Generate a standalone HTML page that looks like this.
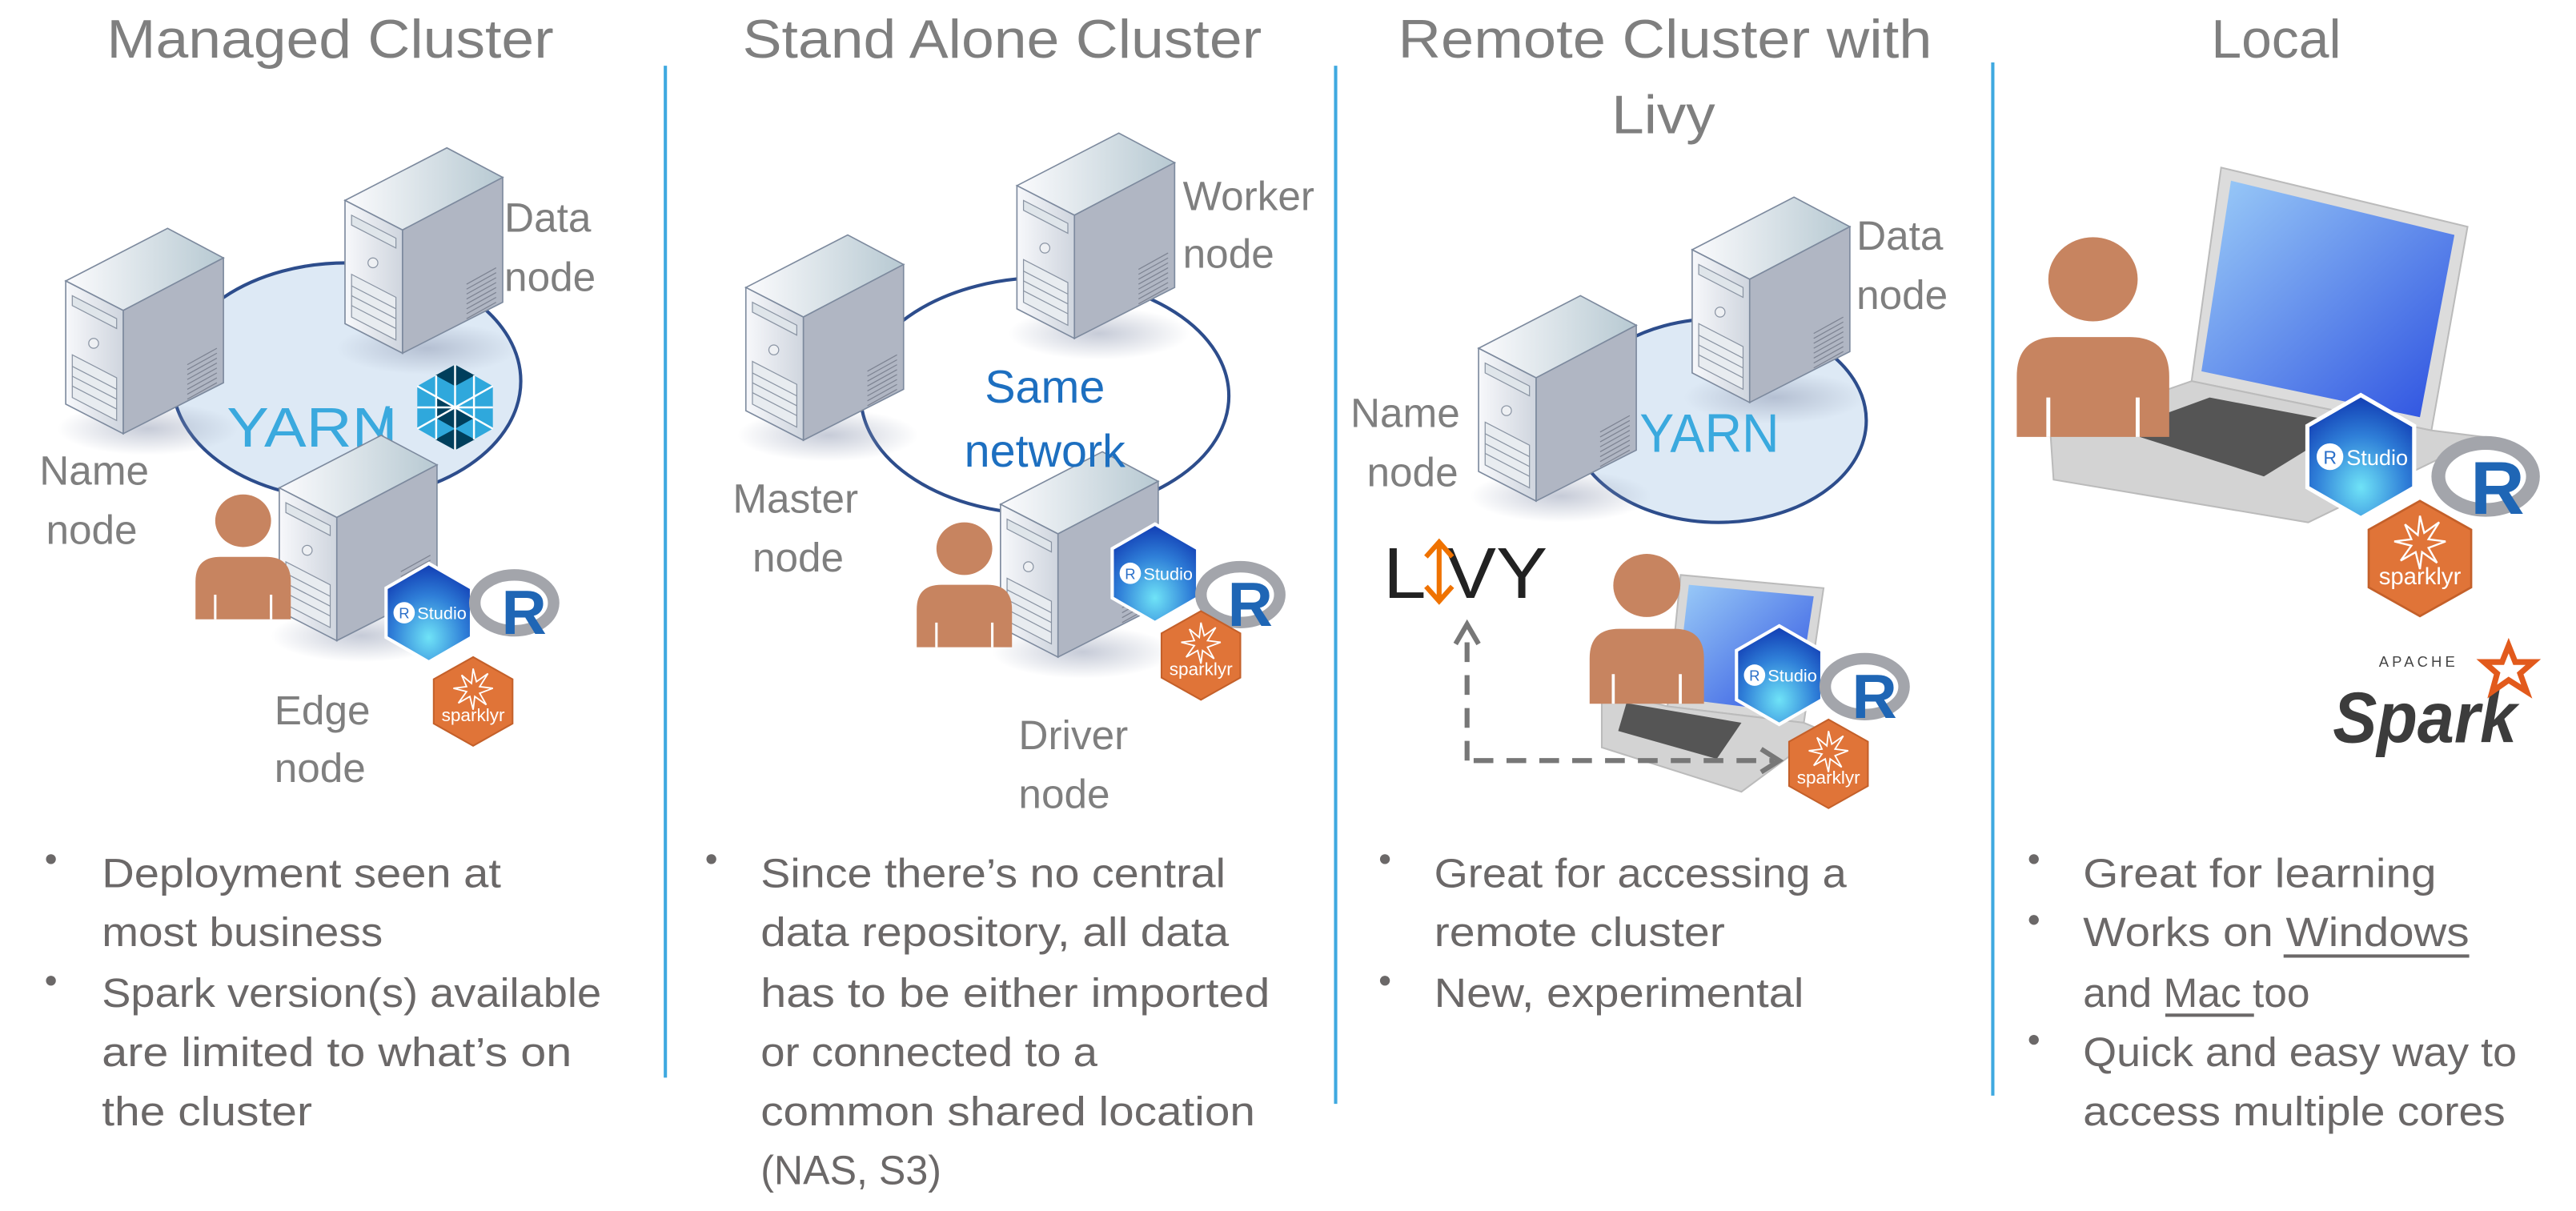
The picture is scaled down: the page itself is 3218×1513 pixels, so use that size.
<!DOCTYPE html>
<html><head><meta charset="utf-8"><style>
html,body{margin:0;padding:0;background:#fff;}
svg{display:block;}
text{font-family:"Liberation Sans",sans-serif;}
</style></head><body>
<svg width="3218" height="1513" viewBox="0 0 1568 737.2" xmlns="http://www.w3.org/2000/svg">
<defs>
<linearGradient id="top" x1="0" y1="0" x2="1" y2="0"><stop offset="0" stop-color="#fbfbfd"/><stop offset="1" stop-color="#b7c9d2"/></linearGradient>
<linearGradient id="front" x1="0" y1="0" x2="1" y2="0"><stop offset="0" stop-color="#f7f8fb"/><stop offset="1" stop-color="#cfd5de"/></linearGradient>
<radialGradient id="rs" cx="0.5" cy="0.75" r="0.7"><stop offset="0" stop-color="#6fe3f7"/><stop offset="0.6" stop-color="#2f7fd8"/><stop offset="1" stop-color="#1545b8"/></radialGradient>
<linearGradient id="scr" x1="0" y1="0" x2="1" y2="1"><stop offset="0" stop-color="#9ccdf8"/><stop offset="1" stop-color="#2c50e0"/></linearGradient>
<radialGradient id="sh" cx="0.5" cy="0.5" r="0.5"><stop offset="0" stop-color="#8d97b0" stop-opacity="0.5"/><stop offset="1" stop-color="#8d97b0" stop-opacity="0"/></radialGradient>
<g id="srv">
 <ellipse cx="50" cy="90" rx="55" ry="16" fill="url(#sh)"/>
 <polygon points="0,0 62,-32 96,-14 35,18" fill="url(#top)" stroke="#7d8a9e" stroke-width="0.8"/>
 <polygon points="35,18 96,-14 96,62 35,93" fill="#b0b6c3" stroke="#7d8a9e" stroke-width="0.8"/>
 <polygon points="0,0 35,18 35,93 0,75" fill="url(#front)" stroke="#7d8a9e" stroke-width="0.8"/>
 <polygon points="4,9 31,23 31,29 4,15" fill="#dfe5ea" stroke="#8a94a3" stroke-width="0.6"/>
 <circle cx="17" cy="38" r="3" fill="#eef0f3" stroke="#8a94a3" stroke-width="0.6"/>
 <polygon points="4,45 31,59 31,85 4,71" fill="#e8ecf0" stroke="#8a94a3" stroke-width="0.6"/>
 <path d="M4,52 L31,66 M4,58 L31,72 M4,64 L31,78" stroke="#8a94a3" stroke-width="0.6"/>
 <path d="M74,51 L92,41 M74,54 L92,44 M74,57 L92,47 M74,60 L92,50 M74,63 L92,53 M74,66 L92,56 M74,69 L92,59 M74,72 L92,62" stroke="#7d8392" stroke-width="0.6"/>
</g>
<g id="person">
 <ellipse cx="0" cy="0" rx="17" ry="16" fill="#c78460"/>
 <path d="M-29,60 L-29,37 Q-29,22 -14,22 L14,22 Q29,22 29,37 L29,60 Z" fill="#c78460"/>
 <path d="M-17,45 L-17,60 M17,45 L17,60" stroke="#fff" stroke-width="1.5"/>
</g>
<g id="rstudio">
 <polygon points="0,-30 26,-15 26,15 0,30 -26,15 -26,-15" fill="url(#rs)" stroke="#fff" stroke-width="2"/>
 <circle cx="-15" cy="0" r="6.5" fill="#fff"/>
 <text x="-15" y="3.5" font-size="9" fill="#2a6fc9" text-anchor="middle" font-family="Liberation Serif,serif">R</text>
 <text x="-7" y="4" font-size="10.5" fill="#fff" textLength="30" lengthAdjust="spacingAndGlyphs">Studio</text>
</g>
<g id="spk">
 <polygon points="0,-27 24,-13.5 24,13.5 0,27 -24,13.5 -24,-13.5" fill="#e07438" stroke="#c4602a" stroke-width="1"/>
 <polygon points="0,-20 2,-12 9,-17 4,-9 12,-8 4,-5 8,2 1,-3 0,5 -2,-3 -9,1 -4,-6 -12,-8 -4,-9 -7,-16 -1,-11" fill="none" stroke="#fff" stroke-width="0.9"/>
 <text x="0" y="12" font-size="11" fill="#fff" text-anchor="middle">sparklyr</text>
</g>
<g id="rlogo">
 <ellipse cx="0" cy="0" rx="24" ry="17" fill="none" stroke="#a3a5ab" stroke-width="7"/>
 <text x="6" y="19" font-size="38" font-weight="bold" fill="#1f66b5" text-anchor="middle">R</text>
</g>
</defs>

<!-- dividers -->
<g stroke="#3fa9e0" stroke-width="2">
<line x1="405" y1="40" x2="405" y2="656"/>
<line x1="813" y1="40" x2="813" y2="672"/>
<line x1="1213" y1="38" x2="1213" y2="667"/>
</g>

<!-- titles -->
<g fill="#7f7f7f" font-size="33">
<text x="65" y="35" textLength="272" lengthAdjust="spacingAndGlyphs">Managed Cluster</text>
<text x="452" y="35" textLength="316" lengthAdjust="spacingAndGlyphs">Stand Alone Cluster</text>
<text x="851" y="35" textLength="325" lengthAdjust="spacingAndGlyphs">Remote Cluster with</text>
<text x="981" y="81" textLength="63" lengthAdjust="spacingAndGlyphs">Livy</text>
<text x="1346" y="35" textLength="79" lengthAdjust="spacingAndGlyphs">Local</text>
</g>

<!-- column 1 -->
<ellipse cx="211" cy="232" rx="106" ry="72" fill="#dde9f5" stroke="#2d4d8c" stroke-width="2"/>
<use href="#srv" x="40" y="171"/>
<use href="#srv" x="210" y="122"/>
<text x="138" y="272" font-size="34" fill="#3aa9de" textLength="104" lengthAdjust="spacingAndGlyphs">YARN</text>
<text x="228" y="272" font-size="34" fill="#3aa9de">/</text>
<g transform="translate(277,248)">
 <polygon points="0,-26 23,-13 23,13 0,26 -23,13 -23,-13" fill="#2fa8dc"/>
 <polygon points="0,-26 -12,-19.5 0,-13 12,-19.5" fill="#003f5c"/>
 <polygon points="0,0 -11.5,-6.5 -11.5,6.5" fill="#003f5c"/>
 <polygon points="0,0 11.5,6.5 0,13 -11.5,6.5" fill="#003f5c"/>
 <polygon points="0,26 -12,19.5 0,13 12,19.5" fill="#003f5c"/>
 <path d="M-23,-13 L23,13 M-23,13 L23,-13 M0,-26 L0,26 M-11.5,-19.5 L-11.5,19.5 M11.5,-19.5 L11.5,19.5 M-23,0 L23,0" stroke="#fff" stroke-width="1.2"/>
</g>
<use href="#srv" x="170" y="297"/>
<use href="#person" x="148" y="317"/>
<use href="#rstudio" x="261" y="373"/>
<use href="#rlogo" x="313" y="367"/>
<use href="#spk" x="288" y="427"/>
<g fill="#7f7f7f" font-size="25">
<text x="307" y="141">Data</text><text x="307" y="177">node</text>
<text x="24" y="295">Name</text><text x="28" y="331">node</text>
<text x="167" y="441">Edge</text><text x="167" y="476">node</text>
</g>

<!-- column 2 -->
<ellipse cx="636" cy="241" rx="112" ry="72" fill="#fff" stroke="#2d4d8c" stroke-width="2"/>
<use href="#srv" x="454" y="175"/>
<use href="#srv" x="619" y="113"/>
<use href="#srv" x="609" y="307"/>
<text x="636" y="245" font-size="28" fill="#1d6fc0" text-anchor="middle">Same</text>
<text x="636" y="284" font-size="28" fill="#1d6fc0" text-anchor="middle">network</text>
<use href="#person" x="587" y="334"/>
<use href="#rstudio" x="703" y="349"/>
<use href="#rlogo" x="755" y="362"/>
<use href="#spk" x="731" y="399"/>
<g fill="#7f7f7f" font-size="25">
<text x="720" y="128">Worker</text><text x="720" y="163">node</text>
<text x="446" y="312">Master</text><text x="458" y="348">node</text>
<text x="620" y="456">Driver</text><text x="620" y="492">node</text>
</g>

<!-- column 3 -->
<ellipse cx="1046" cy="256" rx="90" ry="62" fill="#dde9f5" stroke="#2d4d8c" stroke-width="2"/>
<use href="#srv" x="1030" y="152"/>
<use href="#srv" x="900" y="212"/>
<text x="998" y="275" font-size="33" fill="#3aa9de" textLength="85" lengthAdjust="spacingAndGlyphs">YARN</text>
<g fill="#7f7f7f" font-size="25">
<text x="1130" y="152">Data</text><text x="1130" y="188">node</text>
<text x="822" y="260">Name</text><text x="832" y="296">node</text>
</g>
<text x="842" y="364" font-size="44" fill="#222" textLength="100" lengthAdjust="spacingAndGlyphs">L  VY</text>
<path d="M876,330 L876,366 M868,339 L876,330 L884,339 M868,357 L876,366 L884,357" stroke="#ef7200" stroke-width="3" fill="none"/>
<!-- laptop col3 -->
<polygon points="1023,350 1110,358 1098,440 1015,430" fill="#d8d8d8" stroke="#bbb"/>
<polygon points="1028,356 1104,363 1093,434 1020,425" fill="url(#scr)"/>
<polygon points="975,420 1015,430 1098,440 1110,445 1060,482 975,455" fill="#d3d3d3" stroke="#bbb"/>
<polygon points="990,428 1060,440 1045,462 985,445" fill="#555"/>
<use href="#person" x="1002" y="357" transform="translate(-200,-72) scale(1.2)"/>
<use href="#rstudio" x="1083" y="411"/>
<use href="#rlogo" x="1135" y="418"/>
<use href="#spk" x="1113" y="465"/>
<g stroke="#777" stroke-width="3" fill="none">
<path d="M893,463 L893,382" stroke-dasharray="12,8"/>
<path d="M886,392 L893,380 L900,392"/>
<path d="M897,463 L1080,463" stroke-dasharray="12,8"/>
<path d="M1072,456 L1083,463 L1072,470"/>
</g>

<!-- column 4 -->
<polygon points="1352,102 1502,138 1480,262 1334,232" fill="#dcdcdc" stroke="#bbb"/>
<polygon points="1358,110 1494,143 1473,254 1340,226" fill="url(#scr)"/>
<polygon points="1248,262 1334,232 1480,262 1512,266 1405,318 1250,292" fill="#d3d3d3" stroke="#bbb"/>
<polygon points="1290,262 1345,242 1430,258 1378,290" fill="#555"/>
<g transform="translate(1274,170) scale(1.6)"><use href="#person"/></g>
<g transform="translate(1437,278) scale(1.25)"><use href="#rstudio"/></g>
<g transform="translate(1513,290) scale(1.2)"><use href="#rlogo"/></g>
<g transform="translate(1473,340) scale(1.3)"><use href="#spk"/></g>
<text x="1448" y="406" font-size="9" fill="#444" letter-spacing="2">APACHE</text>
<text x="1420" y="452" font-size="44" font-weight="bold" font-style="italic" fill="#3c3c3c" textLength="112" lengthAdjust="spacingAndGlyphs">Spark</text>
<polygon points="1527,393 1531,403 1542,403 1534,410 1538,421 1527,414 1517,421 1520,410 1512,403 1523,403" fill="none" stroke="#e25a1c" stroke-width="3.5"/>

<!-- bullets -->
<g fill="#6b6868" font-size="25">
<circle cx="31" cy="523" r="3"/><circle cx="31" cy="597" r="3"/>
<text x="62" y="540" textLength="243" lengthAdjust="spacingAndGlyphs">Deployment seen at</text>
<text x="62" y="576" textLength="171" lengthAdjust="spacingAndGlyphs">most business</text>
<text x="62" y="613" textLength="304" lengthAdjust="spacingAndGlyphs">Spark version(s) available</text>
<text x="62" y="649" textLength="286" lengthAdjust="spacingAndGlyphs">are limited to what’s on</text>
<text x="62" y="685" textLength="128" lengthAdjust="spacingAndGlyphs">the cluster</text>

<circle cx="433" cy="523" r="3"/>
<text x="463" y="540" textLength="283" lengthAdjust="spacingAndGlyphs">Since there’s no central</text>
<text x="463" y="576" textLength="285" lengthAdjust="spacingAndGlyphs">data repository, all data</text>
<text x="463" y="613" textLength="310" lengthAdjust="spacingAndGlyphs">has to be either imported</text>
<text x="463" y="649" textLength="205" lengthAdjust="spacingAndGlyphs">or connected to a</text>
<text x="463" y="685" textLength="301" lengthAdjust="spacingAndGlyphs">common shared location</text>
<text x="463" y="721" textLength="110" lengthAdjust="spacingAndGlyphs">(NAS, S3)</text>

<circle cx="843" cy="523" r="3"/><circle cx="843" cy="597" r="3"/>
<text x="873" y="540" textLength="251" lengthAdjust="spacingAndGlyphs">Great for accessing a</text>
<text x="873" y="576" textLength="177" lengthAdjust="spacingAndGlyphs">remote cluster</text>
<text x="873" y="613" textLength="225" lengthAdjust="spacingAndGlyphs">New, experimental</text>

<circle cx="1238" cy="523" r="3"/><circle cx="1238" cy="560" r="3"/><circle cx="1238" cy="633" r="3"/>
<text x="1268" y="540" textLength="215" lengthAdjust="spacingAndGlyphs">Great for learning</text>
<text x="1268" y="576" textLength="235" lengthAdjust="spacingAndGlyphs">Works on Windows</text>
<text x="1268" y="613" textLength="138" lengthAdjust="spacingAndGlyphs">and Mac too</text>
<text x="1268" y="649" textLength="264" lengthAdjust="spacingAndGlyphs">Quick and easy way to</text>
<text x="1268" y="685" textLength="257" lengthAdjust="spacingAndGlyphs">access multiple cores</text>
<rect x="1390" y="581" width="113" height="2"/>
<rect x="1318" y="617" width="54" height="2"/>
</g>
</svg>
</body></html>
